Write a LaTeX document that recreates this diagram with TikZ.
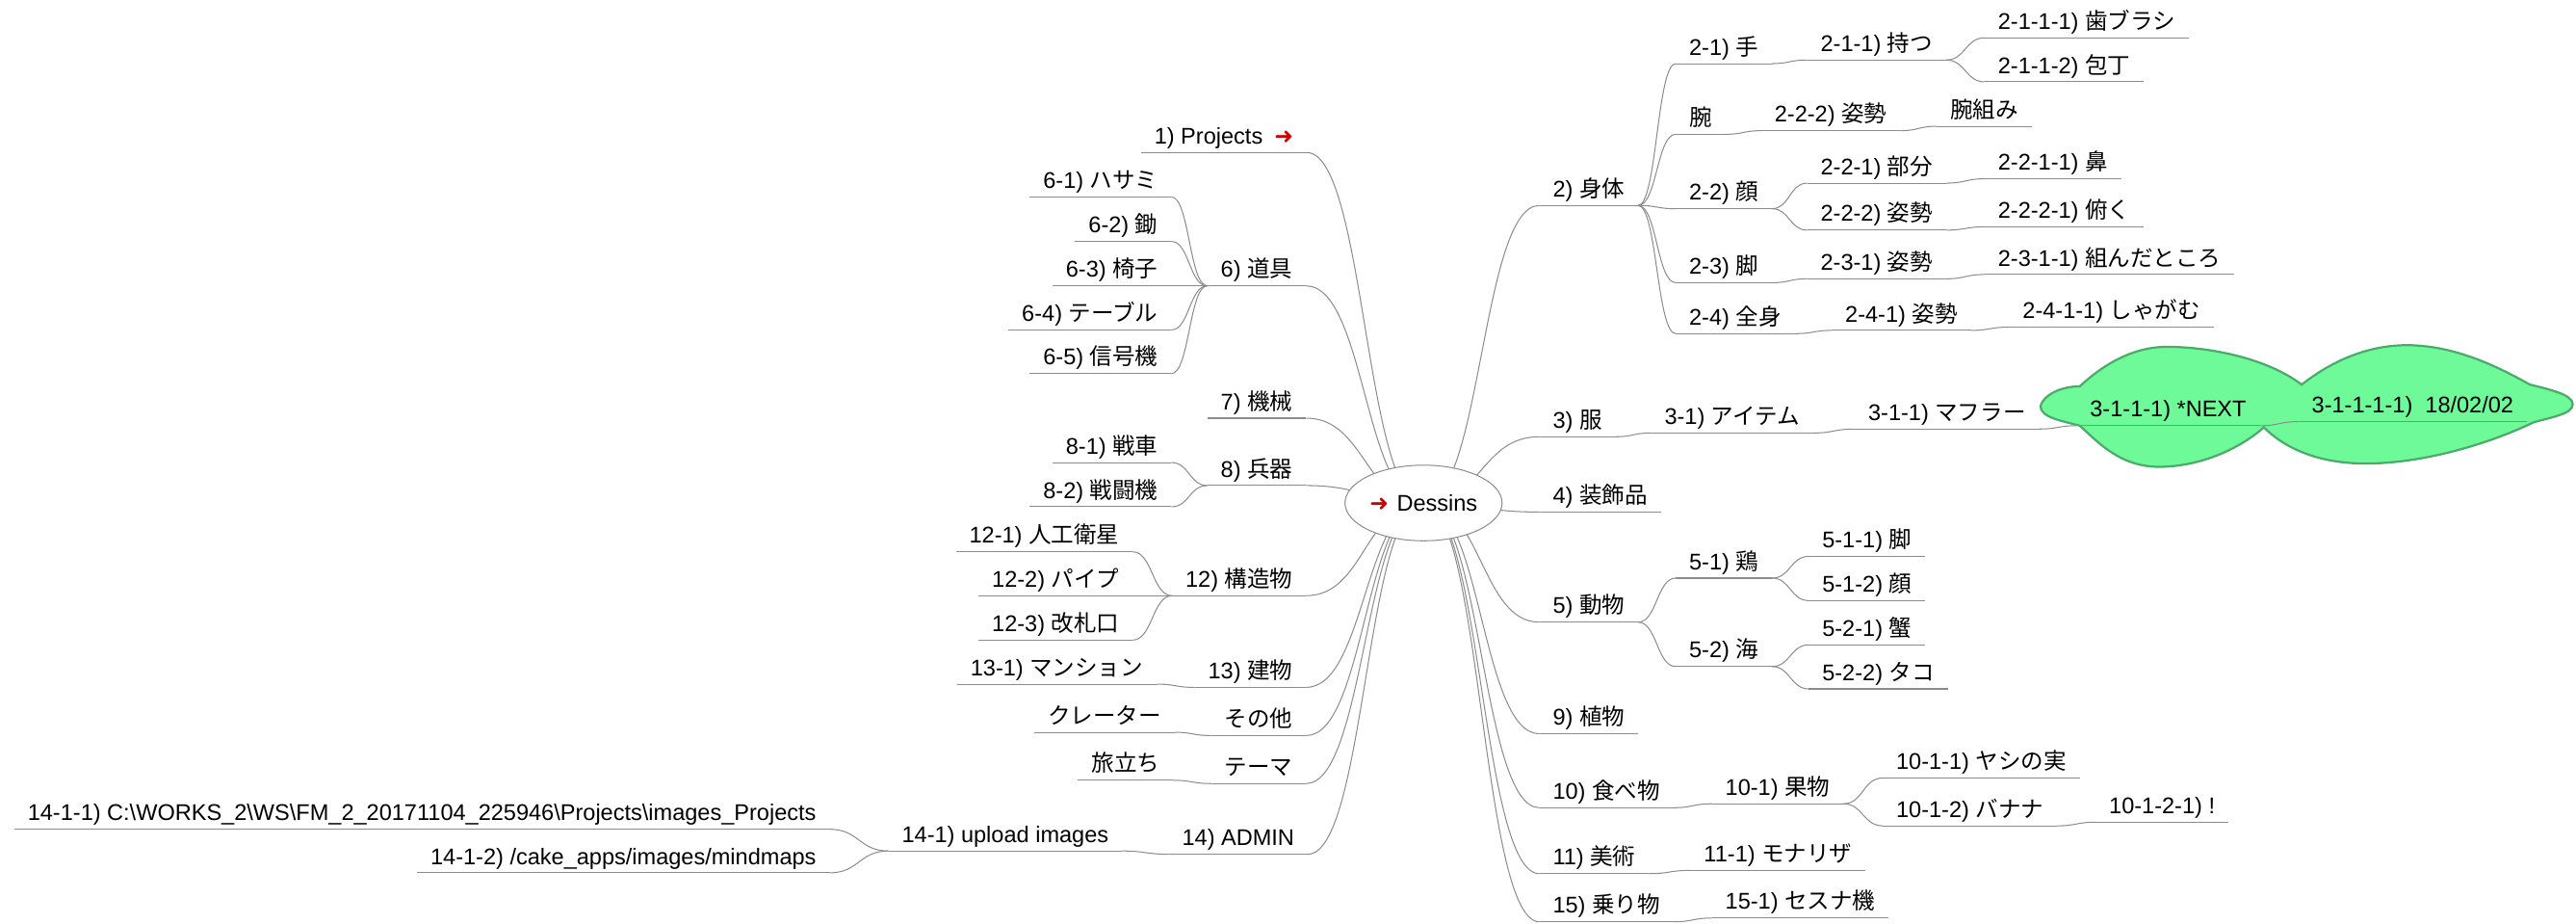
\documentclass[tikz,border=0pt]{standalone}
\usepackage{fontspec}
\setmainfont{Liberation Sans}
\newfontfamily\jpfont{Noto Sans CJK JP}
\newfontfamily\dingfont{DejaVu Sans}
\usepackage{xcolor}
\definecolor{EdgeCol}{RGB}{140,140,140}
\definecolor{CloudFill}{RGB}{110,250,152}
\definecolor{CloudLine}{RGB}{76,170,106}
\definecolor{ArrowRed}{RGB}{204,0,0}
\usepackage{tikz}
\usetikzlibrary{shapes.geometric}
\usetikzlibrary{backgrounds}
\usetikzlibrary{calc}
\newcommand{\Jp}[1]{{\jpfont #1}}
\newcommand{\RedArrow}{{\dingfont\color{ArrowRed}➜}}
\tikzstyle{Edge}=[draw=EdgeCol,line width=.6pt]
\tikzstyle{Link}=[to path={let \p1=(\tikztostart),\p2=(\tikztotarget) in
    .. controls ({.5*\x1+.5*\x2},\y1) and ({.5*\x1+.5*\x2},\y2) .. (\tikztotarget)}]
\tikzstyle{Topic}=[inner xsep=8pt,inner ysep=5pt,text depth=0pt,
font=\fontsize{13.8}{16}\selectfont,
append after command={(\tikzlastnode.south west) edge[Edge] (\tikzlastnode.south east)}]
\tikzstyle{Root}=[ellipse,draw=EdgeCol,fill=white,line width=.6pt,inner sep=0pt,
minimum width=95.6pt,minimum height=46pt,font=\fontsize{13.8}{16}\selectfont]
\tikzstyle{Cloud}=[fill=CloudFill,draw=CloudLine,line width=1.3pt]

\begin{document}
\begin{tikzpicture}[x=1pt,y=-1pt]
            \useasboundingbox (0,0) rectangle (1568,561.6);
            \node[Root](root)at(866.5,306){\RedArrow\hspace{5pt}Dessins};
            % right side
            \node[Topic,anchor=south west](n2)at(937,125){2) \Jp{身体}};
            \node[Topic,anchor=south west](n21)at(1020,38.7){2-1) \Jp{手}};
            \node[Topic,anchor=south west](n211)at(1100,36.5){2-1-1) \Jp{持つ}};
            \node[Topic,anchor=south west](n2111)at(1208,23){2-1-1-1) \Jp{歯ブラシ}};
            \node[Topic,anchor=south west](n2112)at(1208,49.8){2-1-1-2) \Jp{包丁}};
            \node[Topic,anchor=south west](n22b)at(1020,81.7){\Jp{腕}};
            \node[Topic,anchor=south west](n222b)at(1072,79.5){2-2-2) \Jp{姿勢}};
            \node[Topic,anchor=south west](n222c)at(1179,76.8){\Jp{腕組み}};
            \node[Topic,anchor=south west](n22)at(1020,127){2-2) \Jp{顔}};
            \node[Topic,anchor=south west](n221)at(1100,111.4){2-2-1) \Jp{部分}};
            \node[Topic,anchor=south west](n2211)at(1208,108.8){2-2-1-1) \Jp{鼻}};
            \node[Topic,anchor=south west](n222)at(1100,140){2-2-2) \Jp{姿勢}};
            \node[Topic,anchor=south west](n2221)at(1208,138){2-2-2-1) \Jp{俯く}};
            \node[Topic,anchor=south west](n23)at(1020,172){2-3) \Jp{脚}};
            \node[Topic,anchor=south west](n231)at(1100,169.6){2-3-1) \Jp{姿勢}};
            \node[Topic,anchor=south west](n2311)at(1208,167){2-3-1-1) \Jp{組んだところ}};
            \node[Topic,anchor=south west](n24)at(1020,203){2-4) \Jp{全身}};
            \node[Topic,anchor=south west](n241)at(1115,201){2-4-1) \Jp{姿勢}};
            \node[Topic,anchor=south west](n2411)at(1223,199){2-4-1-1) \Jp{しゃがむ}};
            \node[Topic,anchor=south west](n3)at(937,265.7){3) \Jp{服}};
            \node[Topic,anchor=south west](n31)at(1005,263.4){3-1) \Jp{アイテム}};
            \node[Topic,anchor=south west](n311)at(1129,261){3-1-1) \Jp{マフラー}};
            \node[Topic,anchor=south west](n4)at(937,311.5){4) \Jp{装飾品}};
            \node[Topic,anchor=south west](n5)at(937,378.5){5) \Jp{動物}};
            \node[Topic,anchor=south west](n51)at(1020,351.7){5-1) \Jp{鶏}};
            \node[Topic,anchor=south west](n511)at(1101,338.5){5-1-1) \Jp{脚}};
            \node[Topic,anchor=south west](n512)at(1101,365.4){5-1-2) \Jp{顔}};
            \node[Topic,anchor=south west](n52)at(1020,405.5){5-2) \Jp{海}};
            \node[Topic,anchor=south west](n521)at(1101,392.3){5-2-1) \Jp{蟹}};
            \node[Topic,anchor=south west](n522)at(1101,419.1){5-2-2) \Jp{タコ}};
            \node[Topic,anchor=south west](n9)at(937,446.4){9) \Jp{植物}};
            \node[Topic,anchor=south west](n10)at(937,491.4){10) \Jp{食べ物}};
            \node[Topic,anchor=south west](n101)at(1042,489){10-1) \Jp{果物}};
            \node[Topic,anchor=south west](n1011)at(1146,473.3){10-1-1) \Jp{ヤシの実}};
            \node[Topic,anchor=south west](n1012)at(1146,502.4){10-1-2) \Jp{バナナ}};
            \node[Topic,anchor=south west](n10121)at(1275.6,500.2){10-1-2-1) !};
            \node[Topic,anchor=south west](n11)at(937,531.5){11) \Jp{美術}};
            \node[Topic,anchor=south west](n111)at(1029,529.5){11-1) \Jp{モナリザ}};
            \node[Topic,anchor=south west](n15)at(937,560.8){15) \Jp{乗り物}};
            \node[Topic,anchor=south west](n151)at(1042,558.5){15-1) \Jp{セスナ機}};
            % left side
            \node[Topic,anchor=south east](n1)at(795.4,92.8){1) Projects\hspace{7pt}\RedArrow};
            \node[Topic,anchor=south east](n6)at(795,173.9){6) \Jp{道具}};
            \node[Topic,anchor=south east](n61)at(713,119.8){6-1) \Jp{ハサミ}};
            \node[Topic,anchor=south east](n62)at(713,146.9){6-2) \Jp{鋤}};
            \node[Topic,anchor=south east](n63)at(713,173.9){6-3) \Jp{椅子}};
            \node[Topic,anchor=south east](n64)at(713,200.7){6-4) \Jp{テーブル}};
            \node[Topic,anchor=south east](n65)at(713,227.3){6-5) \Jp{信号機}};
            \node[Topic,anchor=south east](n7)at(795,254.4){7) \Jp{機械}};
            \node[Topic,anchor=south east](n8)at(795,295.4){8) \Jp{兵器}};
            \node[Topic,anchor=south east](n81)at(713,281.4){8-1) \Jp{戦車}};
            \node[Topic,anchor=south east](n82)at(713,308.3){8-2) \Jp{戦闘機}};
            \node[Topic,anchor=south east](n12)at(795,362.4){12) \Jp{構造物}};
            \node[Topic,anchor=south east](n121)at(689.5,335.7){12-1) \Jp{人工衛星}};
            \node[Topic,anchor=south east](n122)at(689.5,362.4){12-2) \Jp{パイプ}};
            \node[Topic,anchor=south east](n123)at(689.5,389.4){12-3) \Jp{改札口}};
            \node[Topic,anchor=south east](n13)at(795,418.2){13) \Jp{建物}};
            \node[Topic,anchor=south east](n131)at(704,416.2){13-1) \Jp{マンション}};
            \node[Topic,anchor=south east](other)at(795,447.5){\Jp{その他}};
            \node[Topic,anchor=south east](other1)at(715,445.5){\Jp{クレーター}};
            \node[Topic,anchor=south east](theme)at(795,476.7){\Jp{テーマ}};
            \node[Topic,anchor=south east](theme1)at(714,474.7){\Jp{旅立ち}};
            \node[Topic,anchor=south east](n14)at(796,519.7){14) ADMIN};
            \node[Topic,anchor=south east](n141)at(683,517.7){14-1) upload images};
            \node[Topic,anchor=south east](n1411)at(505,504.5)
                {14-1-1) C:\textbackslash WORKS\_2\textbackslash WS\textbackslash FM\_2\_20171104\_225946\textbackslash Projects\textbackslash images\_Projects};
            \node[Topic,anchor=south east](n1412)at(505,531){14-1-2) /cake\_apps/images/mindmaps};
            % cloud
            \begin{scope}[on background layer]
            \path[Cloud](1242,247)
                .. controls (1244,240) and (1255,235) .. (1266,235)
                .. controls (1280,222) and (1298,211) .. (1319,211)
                .. controls (1345,211) and (1380,218) .. (1401,234)
                .. controls (1420,219) and (1442,210) .. (1465,210)
                .. controls (1495,210) and (1522,224) .. (1540,234)
                .. controls (1552,237) and (1566,240) .. (1566,246)
                .. controls (1566,252) and (1552,254) .. (1542,257)
                .. controls (1515,270) and (1475,282) .. (1440,282)
                .. controls (1410,282) and (1390,272) .. (1378,260)
                .. controls (1362,274) and (1338,284) .. (1314,284)
                .. controls (1290,284) and (1276,268) .. (1266,259)
                .. controls (1255,256) and (1242,254) .. (1242,247) -- cycle;
            \end{scope}
            \node[Topic,anchor=south west](n3111)at(1264,259){3-1-1-1) *NEXT};
            \node[Topic,anchor=south west](n31111)at(1399,256.5){3-1-1-1-1)~ 18/02/02};
            % edges from the centre
            \begin{scope}[on background layer]
            \draw[Edge](root.center)to[Link](n2.south west);
            \draw[Edge](root.center)to[Link](n3.south west);
            \draw[Edge](root.center)to[Link](n4.south west);
            \draw[Edge](root.center)to[Link](n5.south west);
            \draw[Edge](root.center)to[Link](n9.south west);
            \draw[Edge](root.center)to[Link](n10.south west);
            \draw[Edge](root.center)to[Link](n11.south west);
            \draw[Edge](root.center)to[Link](n15.south west);
            \draw[Edge](root.center)to[Link](n1.south east);
            \draw[Edge](root.center)to[Link](n6.south east);
            \draw[Edge](root.center)to[Link](n7.south east);
            \draw[Edge](root.center)to[Link](n8.south east);
            \draw[Edge](root.center)to[Link](n12.south east);
            \draw[Edge](root.center)to[Link](n13.south east);
            \draw[Edge](root.center)to[Link](other.south east);
            \draw[Edge](root.center)to[Link](theme.south east);
            \draw[Edge](root.center)to[Link](n14.south east);
            \end{scope}
            % right forks
            \draw[Edge](n2.south east)to[Link](n21.south west);
            \draw[Edge](n2.south east)to[Link](n22b.south west);
            \draw[Edge](n2.south east)to[Link](n22.south west);
            \draw[Edge](n2.south east)to[Link](n23.south west);
            \draw[Edge](n2.south east)to[Link](n24.south west);
            \draw[Edge](n21.south east)to[Link](n211.south west);
            \draw[Edge](n211.south east)to[Link](n2111.south west);
            \draw[Edge](n211.south east)to[Link](n2112.south west);
            \draw[Edge](n22b.south east)to[Link](n222b.south west);
            \draw[Edge](n222b.south east)to[Link](n222c.south west);
            \draw[Edge](n22.south east)to[Link](n221.south west);
            \draw[Edge](n22.south east)to[Link](n222.south west);
            \draw[Edge](n221.south east)to[Link](n2211.south west);
            \draw[Edge](n222.south east)to[Link](n2221.south west);
            \draw[Edge](n23.south east)to[Link](n231.south west);
            \draw[Edge](n231.south east)to[Link](n2311.south west);
            \draw[Edge](n24.south east)to[Link](n241.south west);
            \draw[Edge](n241.south east)to[Link](n2411.south west);
            \draw[Edge](n3.south east)to[Link](n31.south west);
            \draw[Edge](n31.south east)to[Link](n311.south west);
            \draw[Edge](n311.south east)to[Link](n3111.south west);
            \draw[Edge](n3111.south east)to[Link](n31111.south west);
            \draw[Edge](n5.south east)to[Link](n51.south west);
            \draw[Edge](n5.south east)to[Link](n52.south west);
            \draw[Edge](n51.south east)to[Link](n511.south west);
            \draw[Edge](n51.south east)to[Link](n512.south west);
            \draw[Edge](n52.south east)to[Link](n521.south west);
            \draw[Edge](n52.south east)to[Link](n522.south west);
            \draw[Edge](n10.south east)to[Link](n101.south west);
            \draw[Edge](n101.south east)to[Link](n1011.south west);
            \draw[Edge](n101.south east)to[Link](n1012.south west);
            \draw[Edge](n1012.south east)to[Link](n10121.south west);
            \draw[Edge](n11.south east)to[Link](n111.south west);
            \draw[Edge](n15.south east)to[Link](n151.south west);
            % left forks
            \draw[Edge](n6.south west)to[Link](n61.south east);
            \draw[Edge](n6.south west)to[Link](n62.south east);
            \draw[Edge](n6.south west)to[Link](n63.south east);
            \draw[Edge](n6.south west)to[Link](n64.south east);
            \draw[Edge](n6.south west)to[Link](n65.south east);
            \draw[Edge](n8.south west)to[Link](n81.south east);
            \draw[Edge](n8.south west)to[Link](n82.south east);
            \draw[Edge](n12.south west)to[Link](n121.south east);
            \draw[Edge](n12.south west)to[Link](n122.south east);
            \draw[Edge](n12.south west)to[Link](n123.south east);
            \draw[Edge](n13.south west)to[Link](n131.south east);
            \draw[Edge](other.south west)to[Link](other1.south east);
            \draw[Edge](theme.south west)to[Link](theme1.south east);
            \draw[Edge](n14.south west)to[Link](n141.south east);
            \draw[Edge](n141.south west)to[Link](n1411.south east);
            \draw[Edge](n141.south west)to[Link](n1412.south east);
        \end{tikzpicture}
\end{document}
